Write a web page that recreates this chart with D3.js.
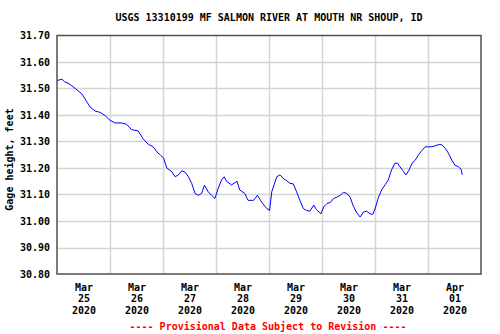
<!DOCTYPE html>
<html lang="en">
<head>
<meta charset="UTF-8">
<title>USGS 13310199</title>
<script src="https://d3js.org/d3.v7.min.js"></script>
<style>
    body { margin: 0; background: #fff; }
    text { font-family: "DejaVu Sans Mono", "Liberation Mono", monospace; font-weight: bold; font-size: 10px; }
</style>
</head>
<body>
<script>
    // readings, 15-min clock times (UTC used only as plain clock)
    var times = [
        "2020-03-25 00:00","2020-03-25 02:15","2020-03-25 03:30","2020-03-25 05:00","2020-03-25 06:45",
        "2020-03-25 09:00","2020-03-25 11:15","2020-03-25 13:30","2020-03-25 15:00","2020-03-25 17:15",
        "2020-03-25 19:30","2020-03-25 21:45",
        "2020-03-26 00:00","2020-03-26 02:15","2020-03-26 05:15","2020-03-26 07:30","2020-03-26 09:45",
        "2020-03-26 12:45","2020-03-26 15:00","2020-03-26 17:15","2020-03-26 19:30","2020-03-26 21:45",
        "2020-03-26 22:45",
        "2020-03-27 00:15","2020-03-27 01:45","2020-03-27 04:00","2020-03-27 05:30","2020-03-27 07:00",
        "2020-03-27 08:30","2020-03-27 10:00","2020-03-27 11:30","2020-03-27 13:00","2020-03-27 14:30",
        "2020-03-27 16:00","2020-03-27 17:30","2020-03-27 18:45","2020-03-27 20:30","2020-03-27 22:00",
        "2020-03-27 23:30",
        "2020-03-28 01:00","2020-03-28 02:30","2020-03-28 03:45","2020-03-28 04:45","2020-03-28 07:00",
        "2020-03-28 09:30","2020-03-28 10:45","2020-03-28 13:00","2020-03-28 14:30","2020-03-28 17:00",
        "2020-03-28 18:45","2020-03-28 20:45","2020-03-28 23:00",
        "2020-03-29 00:15","2020-03-29 01:15","2020-03-29 03:30","2020-03-29 05:00","2020-03-29 06:30",
        "2020-03-29 08:00","2020-03-29 09:30","2020-03-29 11:00","2020-03-29 12:30","2020-03-29 14:00",
        "2020-03-29 15:30","2020-03-29 17:00","2020-03-29 18:30","2020-03-29 20:15","2020-03-29 21:30",
        "2020-03-29 23:30",
        "2020-03-30 00:45","2020-03-30 02:15","2020-03-30 03:45","2020-03-30 05:15","2020-03-30 06:45",
        "2020-03-30 08:15","2020-03-30 09:45","2020-03-30 11:15","2020-03-30 12:45","2020-03-30 14:00",
        "2020-03-30 15:30","2020-03-30 17:15","2020-03-30 18:45","2020-03-30 20:15","2020-03-30 21:45",
        "2020-03-30 23:00",
        "2020-03-31 00:00","2020-03-31 01:30","2020-03-31 03:00","2020-03-31 04:30","2020-03-31 06:00",
        "2020-03-31 07:30","2020-03-31 09:00","2020-03-31 10:15","2020-03-31 11:15","2020-03-31 13:00",
        "2020-03-31 14:00","2020-03-31 15:30","2020-03-31 16:45","2020-03-31 18:15","2020-03-31 19:45",
        "2020-03-31 21:15","2020-03-31 22:45",
        "2020-04-01 00:15","2020-04-01 01:45","2020-04-01 03:15","2020-04-01 04:45","2020-04-01 06:15",
        "2020-04-01 07:45","2020-04-01 09:15","2020-04-01 10:45","2020-04-01 12:15","2020-04-01 13:45",
        "2020-04-01 15:00","2020-04-01 15:30"
    ];
    var gage = [
        31.530,31.535,31.525,31.520,31.510,31.495,31.480,31.450,31.430,31.415,31.410,31.398,
        31.380,31.370,31.370,31.365,31.345,31.340,31.310,31.290,31.280,31.256,31.250,
        31.237,31.200,31.186,31.167,31.174,31.190,31.184,31.167,31.142,31.104,31.097,31.104,31.135,31.110,31.097,31.085,
        31.123,31.155,31.167,31.150,31.136,31.150,31.117,31.104,31.078,31.078,31.097,31.070,31.047,
        31.040,31.110,31.167,31.174,31.160,31.152,31.142,31.140,31.110,31.078,31.047,31.040,31.037,31.060,31.043,31.027,
        31.053,31.066,31.070,31.085,31.090,31.097,31.108,31.104,31.090,31.060,31.034,31.015,31.034,31.037,31.027,31.025,
        31.045,31.088,31.117,31.136,31.155,31.193,31.218,31.218,31.205,31.186,31.174,31.193,31.218,31.230,31.250,31.266,31.280,
        31.280,31.280,31.284,31.288,31.288,31.275,31.256,31.230,31.210,31.205,31.195,31.174
    ];
    var dayTicks = ["2020-03-25","2020-03-26","2020-03-27","2020-03-28","2020-03-29","2020-03-30","2020-03-31","2020-04-01"];
    var yTicks = [30.8,30.9,31.0,31.1,31.2,31.3,31.4,31.5,31.6,31.7];
    var title = "USGS 13310199 MF SALMON RIVER AT MOUTH NR SHOUP, ID";
    var yTitle = "Gage height, feet";
    var footer = "---- Provisional Data Subject to Revision ----";

    var width = 500, height = 334;
    var plotL = 57, plotR = 481, plotT = 35.5, plotB = 274;

    var parseT = d3.utcParse("%Y-%m-%d %H:%M");
    var parseD = d3.utcParse("%Y-%m-%d");
    var data = times.map(function (t, i) { return { t: parseT(t), v: gage[i] }; });

    var svg = d3.select("body").append("svg")
        .attr("width", width)
        .attr("height", height);

    var x = d3.scaleUtc()
        .domain([parseD("2020-03-25"), parseD("2020-04-02")])
        .range([plotL, plotR]);
    var y = d3.scaleLinear()
        .domain([30.8, 31.7])
        .range([plotB, plotT]);

    // grid
    svg.append("g").selectAll("line")
        .data(yTicks.slice(1, -1))
        .enter().append("line")
        .attr("x1", plotL).attr("x2", plotR)
        .attr("y1", function (d) { return Math.round(y(d)) + 0.5; })
        .attr("y2", function (d) { return Math.round(y(d)) + 0.5; })
        .attr("stroke", "#d4d4d4").attr("stroke-width", 1.5);

    svg.append("g").selectAll("line")
        .data(dayTicks.slice(1))
        .enter().append("line")
        .attr("x1", function (d) { return Math.round(x(parseD(d))) + 0.5; })
        .attr("x2", function (d) { return Math.round(x(parseD(d))) + 0.5; })
        .attr("y1", plotT).attr("y2", plotB)
        .attr("stroke", "#d4d4d4").attr("stroke-width", 1.5);

    // series
    var line = d3.line()
        .x(function (d) { return x(d.t); })
        .y(function (d) { return y(d.v); });
    svg.append("path")
        .datum(data)
        .attr("d", line)
        .attr("fill", "none")
        .attr("stroke", "#0000ff")
        .attr("stroke-width", 1);

    // frame
    svg.append("rect")
        .attr("x", plotL).attr("y", plotT)
        .attr("width", plotR - plotL).attr("height", plotB - plotT)
        .attr("fill", "none")
        .attr("stroke", "#505050")
        .attr("stroke-width", 1.5);

    // y axis
    var yaxis = d3.axisLeft(y)
        .tickValues(yTicks)
        .tickSize(0)
        .tickPadding(7)
        .tickFormat(d3.format(".2f"));
    svg.append("g")
        .attr("transform", "translate(" + plotL + ",0)")
        .call(yaxis)
        .call(function (g) { g.select(".domain").remove(); })
        .selectAll("text")
        .attr("fill", "#000");

    // x axis, labels at noon
    var noon = dayTicks.map(function (d) { return d3.utcHour.offset(parseD(d), 12); });
    var xaxis = d3.axisBottom(x)
        .tickValues(noon)
        .tickSize(0)
        .tickFormat("");
    var xg = svg.append("g")
        .attr("transform", "translate(0," + plotB + ")")
        .call(xaxis);
    xg.select(".domain").remove();
    var fmts = [d3.utcFormat("%b"), d3.utcFormat("%d"), d3.utcFormat("%Y")];
    xg.selectAll(".tick").each(function (d) {
        var t = d3.select(this).select("text")
            .attr("fill", "#000")
            .attr("y", 0)
            .attr("dy", null);
        fmts.forEach(function (f, i) {
            t.append("tspan")
                .attr("x", 0)
                .attr("y", 16.5 + i * 11.7)
                .text(f(d));
        });
    });

    // titles
    svg.append("text")
        .attr("x", (plotL + plotR) / 2)
        .attr("y", 21)
        .attr("text-anchor", "middle")
        .text(title);

    svg.append("text")
        .attr("transform", "translate(12.5," + 159.5 + ") rotate(-90)")
        .attr("text-anchor", "middle")
        .text(yTitle);

    svg.append("text")
        .attr("x", 268)
        .attr("y", 329.5)
        .attr("text-anchor", "middle")
        .attr("fill", "#ff0000")
        .text(footer);
</script>
</body>
</html>
